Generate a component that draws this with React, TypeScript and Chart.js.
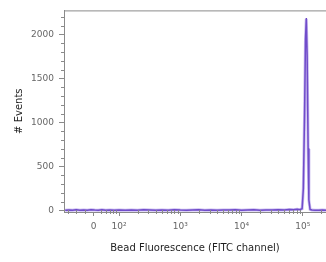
import React, { useEffect, useRef } from 'react';
import { Chart, registerables } from 'chart.js';

Chart.register(...registerables);

// Bin centres in display units (logicle-like: 10^n sits at n, zero at 1.584)
const binPositions = [
  1.12, 1.18, 1.24, 1.3, 1.36, 1.42, 1.48, 1.54, 1.6, 1.66, 1.72, 1.78, 1.85, 1.92,
  2.0, 2.1, 2.2, 2.3, 2.4, 2.5, 2.6, 2.7, 2.8, 2.9, 3.0, 3.1, 3.2, 3.3, 3.4, 3.5,
  3.6, 3.7, 3.8, 3.9, 4.0, 4.1, 4.2, 4.3, 4.4, 4.5, 4.6, 4.7, 4.78, 4.85, 4.91,
  4.95, 4.99, 5.01, 5.03, 5.045, 5.058, 5.072, 5.088, 5.1, 5.12, 5.15, 5.2,
  5.26, 5.32, 5.38,
];
const eventCounts = [
  3, 6, 2, 8, 4, 7, 3, 9, 5, 3, 8, 4, 6, 3,
  7, 4, 6, 3, 8, 5, 3, 7, 4, 9, 5, 3, 6, 8, 4, 6,
  3, 7, 5, 9, 4, 6, 8, 3, 7, 5, 9, 6, 11, 8, 14,
  10, 20, 250, 1100, 1950, 2178, 1750, 700, 120, 12, 5, 4,
  3, 5, 2,
];

const xTickPositions = [1.584, 2, 3, 4, 5];
const xTickLabels = ['0', '10²', '10³', '10⁴', '10⁵'];
const xMinorDecades = [1, 2, 3, 4, 5];
const xMinorMultipliers = [2, 3, 4, 5, 6, 7, 8, 9];
const yTickValues = [0, 500, 1000, 1500, 2000];
const yMinorStep = 100;

const X_MIN = 1.1;
const X_MAX = 5.38;
const Y_MIN = -17;
const Y_MAX = 2274;

const axisGrey = '#8a8a8a';

const decorPlugin = {
  id: 'decor',
  afterDraw(chart: any) {
    const { ctx, chartArea, scales } = chart;
    const xs = scales.x;
    const ys = scales.y;
    ctx.save();
    ctx.strokeStyle = axisGrey;
    ctx.lineWidth = 1;
    ctx.beginPath();
    ctx.moveTo(chartArea.left, chartArea.top + 0.5);
    ctx.lineTo(chartArea.right, chartArea.top + 0.5);
    ctx.stroke();
    for (let v = yMinorStep; v < Y_MAX; v += yMinorStep) {
      if (v % 500 === 0) continue;
      const py = Math.round(ys.getPixelForValue(v)) + 0.5;
      ctx.beginPath();
      ctx.moveTo(chartArea.left - 3, py);
      ctx.lineTo(chartArea.left, py);
      ctx.stroke();
    }
    const yb = chartArea.bottom;
    for (const d of xMinorDecades) {
      for (const m of xMinorMultipliers) {
        const u = d + Math.log10(m);
        if (u <= 1.68 || u >= X_MAX) continue;
        const px = Math.round(xs.getPixelForValue(u)) + 0.5;
        ctx.beginPath();
        ctx.moveTo(px, yb - 2);
        ctx.lineTo(px, yb + 2);
        ctx.stroke();
      }
    }
    for (const off of [-0.42, -0.28, -0.14, 0.12]) {
      const px = Math.round(xs.getPixelForValue(xTickPositions[0] + off)) + 0.5;
      ctx.beginPath();
      ctx.moveTo(px, yb - 2);
      ctx.lineTo(px, yb + 2);
      ctx.stroke();
    }
    ctx.restore();
  },
};

export default function App() {
  const ref = useRef<HTMLCanvasElement | null>(null);
  useEffect(() => {
    document.body.style.margin = '0';
    const points = binPositions.map((x, i) => ({ x, y: eventCounts[i] }));
    const chart = new Chart(ref.current as HTMLCanvasElement, {
      type: 'line',
      data: {
        datasets: [
          {
            data: points,
            borderColor: 'rgba(150,120,225,0.5)',
            borderWidth: 3,
            pointRadius: 0,
            tension: 0,
          },
          {
            data: points,
            borderColor: '#4a20b2',
            borderWidth: 1.5,
            borderJoinStyle: 'round',
            pointRadius: 0,
            tension: 0,
          },
        ],
      },
      options: {
        animation: false,
        responsive: false,
        layout: { padding: { top: 7, right: 0, bottom: 0, left: 0 } },
        plugins: { legend: { display: false }, tooltip: { enabled: false } },
        scales: {
          x: {
            type: 'linear',
            min: X_MIN,
            max: X_MAX,
            afterBuildTicks: (s: any) => {
              s.ticks = xTickPositions.map((v) => ({ value: v }));
            },
            afterFit: (s: any) => {
              s.height = 50;
            },
            ticks: {
              autoSkip: false,
              maxRotation: 0,
              padding: 5,
              color: '#666',
              font: { family: 'DejaVu Sans', size: 9 },
              callback: (_v: any, i: number) => xTickLabels[i],
            },
            grid: {
              drawOnChartArea: false,
              drawTicks: true,
              tickLength: 4,
              color: axisGrey,
            },
            border: { display: true, color: axisGrey },
            title: {
              display: true,
              text: 'Bead Fluorescence (FITC channel)',
              color: '#1e1e1e',
              font: { family: 'DejaVu Sans', size: 10 },
              padding: { top: 0, bottom: 8 },
            },
          },
          y: {
            type: 'linear',
            min: Y_MIN,
            max: Y_MAX,
            afterBuildTicks: (s: any) => {
              s.ticks = yTickValues.map((v) => ({ value: v }));
            },
            afterFit: (s: any) => {
              s.width = 64;
            },
            ticks: {
              padding: 5,
              color: '#666',
              font: { family: 'DejaVu Sans', size: 9 },
              callback: (v: any) => String(v),
            },
            grid: {
              drawOnChartArea: false,
              drawTicks: true,
              tickLength: 5,
              color: axisGrey,
            },
            border: { display: true, color: axisGrey },
            title: {
              display: true,
              text: '# Events',
              color: '#1e1e1e',
              font: { family: 'DejaVu Sans', size: 10 },
              padding: { top: 13, bottom: 0 },
            },
          },
        },
      },
      plugins: [decorPlugin],
    });
    return () => chart.destroy();
  }, []);
  return (
    <div style={{ position: 'absolute', left: 0, top: 0, width: 326, height: 262 }}>
      <canvas ref={ref} width={326} height={262} style={{ display: 'block' }} />
    </div>
  );
}
